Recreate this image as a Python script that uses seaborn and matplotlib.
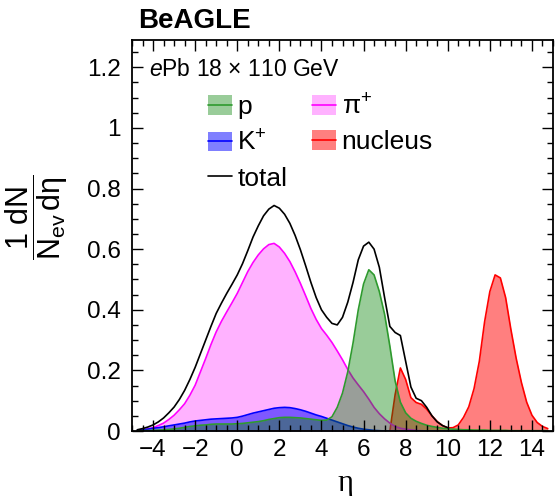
import numpy as np
import matplotlib
matplotlib.use("Agg")
import matplotlib.pyplot as plt
import seaborn as sns
from matplotlib.patches import Patch
from matplotlib.lines import Line2D
from matplotlib.ticker import MultipleLocator, FuncFormatter

# ---------------- data ----------------
eta = [-4.75, -4.5, -4.25, -4.0, -3.75, -3.5, -3.25, -3.0, -2.75, -2.5,
       -2.25, -2.0, -1.75, -1.5, -1.25, -1.0, -0.75, -0.5, -0.25, 0.0,
       0.25, 0.5, 0.75, 1.0, 1.25, 1.5, 1.75, 2.0, 2.25, 2.5,
       2.75, 3.0, 3.25, 3.5, 3.75, 4.0, 4.25, 4.5, 4.75, 5.0,
       5.25, 5.5, 5.75, 6.0, 6.25, 6.5, 6.75, 7.0, 7.25, 7.5,
       7.75, 8.0, 8.25, 8.5, 8.75, 9.0, 9.25, 9.5, 9.75, 10.0,
       10.25, 10.5, 10.75, 11.0, 11.25, 11.5, 11.75, 12.0, 12.25, 12.5,
       12.75, 13.0, 13.25, 13.5, 13.75, 14.0, 14.25, 14.5, 14.75]

pion = [0.001, 0.003, 0.007, 0.011, 0.018, 0.026, 0.038, 0.052, 0.070, 0.090,
        0.118, 0.151, 0.195, 0.239, 0.285, 0.327, 0.362, 0.393, 0.423, 0.454,
        0.490, 0.526, 0.556, 0.581, 0.601, 0.615, 0.619, 0.607, 0.586, 0.559,
        0.525, 0.487, 0.446, 0.404, 0.368, 0.338, 0.316, 0.292, 0.264, 0.235,
        0.203, 0.175, 0.152, 0.130, 0.105, 0.078, 0.057, 0.040, 0.026, 0.015,
        0.009, 0.006, 0.004, 0.002, 0.001, 0, 0, 0, 0, 0,
        0, 0, 0, 0, 0, 0, 0, 0, 0, 0,
        0, 0, 0, 0, 0, 0, 0, 0, 0]

kaon = [0.002, 0.004, 0.006, 0.009, 0.011, 0.014, 0.017, 0.020, 0.023, 0.026,
        0.030, 0.033, 0.035, 0.037, 0.039, 0.040, 0.041, 0.042, 0.043, 0.045,
        0.049, 0.054, 0.059, 0.063, 0.067, 0.071, 0.075, 0.077, 0.078, 0.077,
        0.074, 0.070, 0.065, 0.059, 0.053, 0.048, 0.042, 0.036, 0.030, 0.024,
        0.018, 0.013, 0.009, 0.006, 0.004, 0.002, 0.001, 0, 0, 0,
        0, 0, 0, 0, 0, 0, 0, 0, 0, 0,
        0, 0, 0, 0, 0, 0, 0, 0, 0, 0,
        0, 0, 0, 0, 0, 0, 0, 0, 0]

proton = [0.0005, 0.001, 0.0015, 0.002, 0.003, 0.004, 0.005, 0.007, 0.009, 0.012,
          0.015, 0.017, 0.019, 0.020, 0.022, 0.023, 0.023, 0.023, 0.023, 0.024,
          0.025, 0.027, 0.029, 0.031, 0.034, 0.038, 0.041, 0.044, 0.045, 0.045,
          0.044, 0.043, 0.041, 0.039, 0.037, 0.035, 0.036, 0.047, 0.078, 0.125,
          0.195, 0.290, 0.400, 0.485, 0.532, 0.515, 0.460, 0.385, 0.280, 0.165,
          0.095, 0.060, 0.042, 0.032, 0.025, 0.019, 0.015, 0.012, 0.009, 0.007,
          0.006, 0.005, 0.004, 0.004, 0.003, 0.003, 0.003, 0.002, 0.002, 0.002,
          0.002, 0.001, 0.001, 0.001, 0.001, 0.001, 0.001, 0.001, 0.001]

nucleus = [0, 0, 0, 0, 0, 0, 0, 0, 0, 0,
           0, 0, 0, 0, 0, 0, 0, 0, 0, 0,
           0, 0, 0, 0, 0, 0, 0, 0, 0, 0,
           0, 0, 0, 0, 0, 0, 0, 0, 0, 0,
           0, 0, 0, 0, 0, 0, 0, 0, 0.0, 0.120,
           0.208, 0.170, 0.110, 0.094, 0.088, 0.072, 0.050, 0.031, 0.018, 0.010,
           0.011, 0.020, 0.045, 0.080, 0.140, 0.230, 0.360, 0.460, 0.515, 0.505,
           0.440, 0.335, 0.240, 0.160, 0.095, 0.052, 0.028, 0.015, 0.008]

nan = float("nan")
total = [0.004, 0.008, 0.013, 0.020, 0.030, 0.043, 0.060, 0.079, 0.104, 0.134,
         0.170, 0.210, 0.255, 0.300, 0.345, 0.388, 0.422, 0.454, 0.484, 0.515,
         0.552, 0.595, 0.640, 0.677, 0.710, 0.732, 0.744, 0.735, 0.715, 0.685,
         0.645, 0.598, 0.545, 0.490, 0.440, 0.400, 0.375, 0.355, 0.350, 0.375,
         0.425, 0.490, 0.565, 0.610, 0.623, 0.600, 0.540, 0.440, 0.345, 0.325,
         0.315, 0.230, 0.145, 0.108, 0.100, 0.078, 0.050, 0.030, 0.018, 0.011,
         nan, nan, nan, nan, nan, nan, nan, nan, nan, nan,
         nan, nan, nan, nan, nan, nan, nan, nan, nan]

labels = ["p", r"K$^{+}$", "total", r"$\pi^{+}$", "nucleus"]
x_ticks = [-4, -2, 0, 2, 4, 6, 8, 10, 12, 14]

# ---------------- style ----------------
sns.set_theme(style="ticks")
plt.rcParams["font.family"] = ["Liberation Sans", "DejaVu Sans"]
plt.rcParams["text.color"] = "black"
plt.rcParams["axes.labelcolor"] = "black"
plt.rcParams["xtick.color"] = "black"
plt.rcParams["ytick.color"] = "black"
plt.rcParams["mathtext.fontset"] = "custom"
plt.rcParams["mathtext.rm"] = "Liberation Sans"
plt.rcParams["mathtext.it"] = "Liberation Sans:italic"
plt.rcParams["mathtext.bf"] = "Liberation Sans:bold"
plt.rcParams["mathtext.default"] = "regular"

W, H = 556, 496
fig = plt.figure(figsize=(W / 100, H / 100), dpi=100)
ax = fig.add_axes([132 / W, 1 - 431 / H, (553 - 132) / W, (431 - 40) / H])

c_pi_l, c_pi_f = "#FF00FF", (1.0, 0.0, 1.0, 0.3)
c_k_l, c_k_f = "#0000FF", (0.0, 0.0, 1.0, 0.5)
c_p_l, c_p_f = "#2E9A2E", (0.0, 0.5, 0.0, 0.4)
c_n_l, c_n_f = "#FF0000", (1.0, 0.0, 0.0, 0.5)

df_x = np.array(eta)
lw = 1.2

# nucleus first, then pions, kaons, protons, total on top
ax.fill_between(df_x, 0, nucleus, color=c_n_f, lw=0, zorder=1)
sns.lineplot(x=eta, y=nucleus, ax=ax, color=c_n_l, lw=lw, sort=False, zorder=1.1)
ax.fill_between(df_x, 0, pion, color=c_pi_f, lw=0, zorder=1.2)
sns.lineplot(x=eta, y=pion, ax=ax, color=c_pi_l, lw=lw, sort=False, zorder=1.3)
ax.fill_between(df_x, 0, kaon, color=c_k_f, lw=0, zorder=1.4)
sns.lineplot(x=eta, y=kaon, ax=ax, color=c_k_l, lw=lw, sort=False, zorder=1.5)
ax.fill_between(df_x, 0, proton, color=c_p_f, lw=0, zorder=1.6)
sns.lineplot(x=eta, y=proton, ax=ax, color=c_p_l, lw=lw, sort=False, zorder=1.7)
sns.lineplot(x=eta, y=total, ax=ax, color="black", lw=lw, sort=False, zorder=1.8)

ax.set_xlim(-5, 15)
ax.set_ylim(0, 1.29)
ax.set_xlabel("")
ax.set_ylabel("")

ax.set_xticks(x_ticks)
ax.xaxis.set_minor_locator(MultipleLocator(0.5))
ax.yaxis.set_major_locator(MultipleLocator(0.2))
ax.yaxis.set_minor_locator(MultipleLocator(0.05))
ax.yaxis.set_major_formatter(FuncFormatter(lambda v, p: "%g" % round(v, 2)))
ax.tick_params(which="both", direction="in", top=True, right=True,
               colors="black", width=1.0, labelsize=17.5)
ax.tick_params(which="major", length=8)
ax.tick_params(which="minor", length=4)
ax.tick_params(axis="y", pad=8)
ax.tick_params(axis="x", pad=6)
ax.set_axisbelow(False)
for s in ax.spines.values():
    s.set_linewidth(1.3)
    s.set_color("black")
    s.set_zorder(5)

# legend
def h(fc, lc):
    return (Patch(facecolor=fc, edgecolor="none"), Line2D([], [], color=lc, lw=lw))

handles = [h(c_p_f, c_p_l), h(c_k_f, c_k_l), Line2D([], [], color="black", lw=lw),
           h(c_pi_f, c_pi_l), h(c_n_f, c_n_l)]
leg = ax.legend(handles, labels, ncol=2, loc="upper left",
                bbox_to_anchor=((208 - 132) / 421, (431 - 94) / 391),
                frameon=False, fontsize=19, handlelength=0.91, handleheight=0.76,
                handletextpad=0.2, columnspacing=0.95, labelspacing=0.42,
                borderpad=0, borderaxespad=0)

# texts
ax.text((149 - 132) / 421, (431 - 76) / 391, r"$\mathit{e}$Pb 18 × 110 GeV",
        transform=ax.transAxes, fontsize=16.5, va="baseline", ha="left")
fig.text(138 / W, 1 - 28 / H, "BeAGLE", fontsize=20, fontweight="bold",
         va="baseline", ha="left")
fig.text(37 / W, 1 - 217 / H, r"$\dfrac{1\ \mathrm{dN}}{\mathrm{N_{ev}}\,\mathrm{d}\eta}$",
         rotation=90, fontsize=22, va="center", ha="center")
fig.text(345 / W, 1 - 483 / H, "η", fontsize=22, family=["Liberation Serif", "DejaVu Serif"],
         va="center", ha="center")

fig.savefig("out.png", dpi=100)
